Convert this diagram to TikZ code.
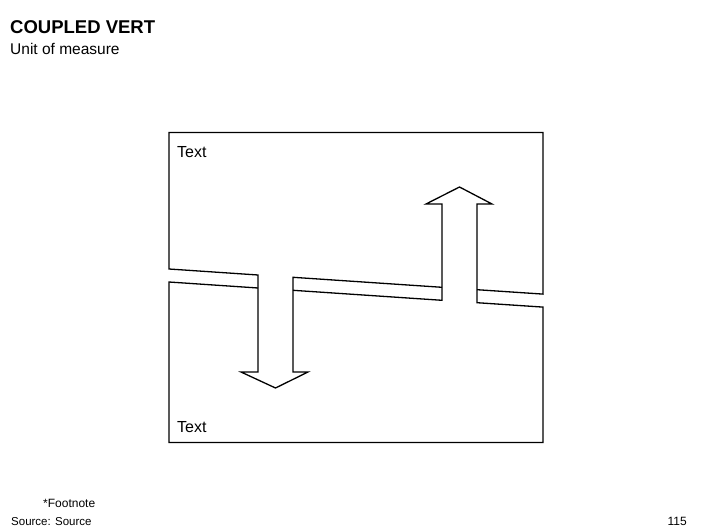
\documentclass[tikz,border=0pt]{standalone}
\usepackage{fontspec}
\setmainfont{Liberation Sans}
\usetikzlibrary{positioning}
\tikzset{
  layer/.style={line width=1.3pt, line join=miter},
  label/.style={inner sep=0pt, anchor=base west},
}
\begin{document}
\begin{tikzpicture}[x=1pt,y=-1pt]
\useasboundingbox (0,0) rectangle (706,529);
% upper layer with the arrow going down
\def\upperlayer{(442,287.3) -- (293,277.3) -- (293,372) -- (308,372) -- (275.5,388)
  -- (241,372) -- (258,372) -- (258,275) -- (169,269) -- (169,132.5)
  -- (543,132.5) -- (543,294.1) -- (477,289.7)}
% lower layer with the arrow going up
\def\lowerlayer{(258,288) -- (169,282) -- (169,442.5) -- (543,442.5) -- (543,307.1)
  -- (477,302.7) -- (477,204) -- (492,204) -- (459.5,187) -- (426,204)
  -- (442,204) -- (442,300.3) -- (293,290.3)}
  \draw[layer] \upperlayer;
  \draw[layer] \lowerlayer;
  \node[label, font=\fontsize{18.5}{20}\selectfont\bfseries] (title) at (10,34) {COUPLED VERT};
  \node[label, font=\fontsize{15.5}{17}\selectfont] (unit) at (10,55) {Unit of measure};
  \node[label, font=\fontsize{16}{18}\selectfont] (toptext) at (177,158) {Text};
  \node[label, font=\fontsize{16}{18}\selectfont] (bottomtext) at (177,432) {Text};
  \node[label, font=\fontsize{12}{14}\selectfont] (footnote) at (43,507) {*Footnote};
  \node[label, font=\fontsize{11.5}{13}\selectfont] (source) at (11,525) {Source: Source};
  \node[inner sep=0pt, anchor=base east, font=\fontsize{12}{14}\selectfont] (page) at (687,525) {115};
\end{tikzpicture}
\end{document}
